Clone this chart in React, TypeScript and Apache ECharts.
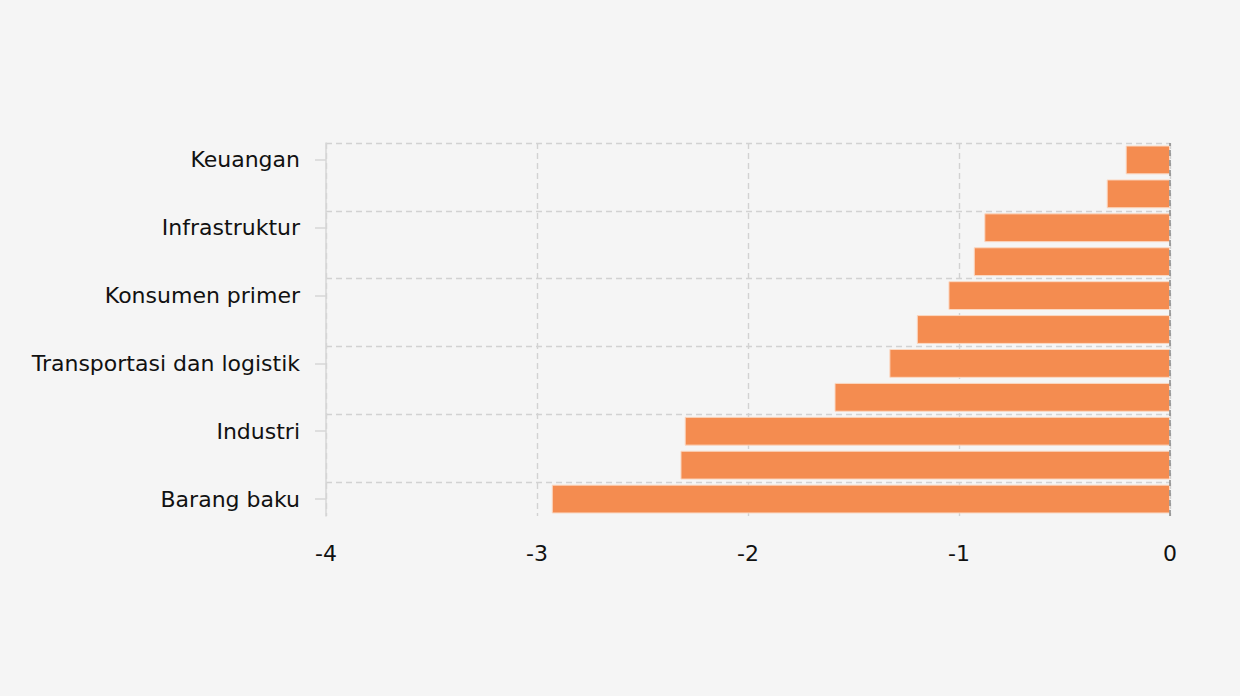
import React, { useEffect, useRef } from "react";
import * as echarts from "echarts";

const categories = [
  "Barang baku",
  "Energi",
  "Industri",
  "Properti dan real estat",
  "Transportasi dan logistik",
  "Teknologi",
  "Konsumen primer",
  "Kesehatan",
  "Infrastruktur",
  "Konsumen non-primer",
  "Keuangan",
];
const values = [-2.93, -2.32, -2.3, -1.59, -1.33, -1.2, -1.05, -0.93, -0.88, -0.3, -0.21];
const xTicks = { min: -4, max: 0, interval: 1 };

export default function App() {
  const ref = useRef<HTMLDivElement>(null);
  useEffect(() => {
    if (!ref.current) return;
    document.body.style.margin = "0";
    const chart = echarts.init(ref.current, undefined, { renderer: "svg" });
    const font = "DejaVu Sans";
    const dash = { type: [6, 4], color: "#d2d2d2", width: 1.4 };
    chart.setOption({
      animation: false,
      backgroundColor: "#f5f5f5",
      grid: { left: 326, right: 70, top: 143, bottom: 180, containLabel: false },
      xAxis: {
        type: "value",
        min: xTicks.min,
        max: xTicks.max,
        interval: xTicks.interval,
        axisLine: { show: false },
        axisTick: { show: false },
        axisLabel: { color: "#111", fontSize: 22, fontFamily: font, margin: 26 },
        splitLine: { show: true, lineStyle: dash },
      },
      yAxis: {
        type: "category",
        data: categories,
        axisLine: { show: true, onZero: false, lineStyle: { color: "#d6d6d6", width: 1.5 } },
        axisTick: { show: true, interval: 1, alignWithLabel: true, length: 11, lineStyle: { color: "#d6d6d6", width: 1.5 } },
        axisLabel: { interval: 1, color: "#111", fontSize: 22, fontFamily: font, margin: 26 },
        splitLine: {
          show: true,
          interval: (i: number) => i % 2 === 1,
          lineStyle: dash,
        },
      },
      series: [
        {
          type: "bar",
          data: values,
          barCategoryGap: "15%",
          itemStyle: { color: "#f48c50", borderColor: "#fbd8c2", borderWidth: 1 },
          markLine: {
            silent: true,
            symbol: "none",
            label: { show: false },
            lineStyle: { type: [6, 4], color: "#888", width: 1.5 },
            data: [{ xAxis: 0 }],
          },
        },
      ],
    });
    return () => chart.dispose();
  }, []);
  return <div ref={ref} style={{ width: 1240, height: 696 }} />;
}
